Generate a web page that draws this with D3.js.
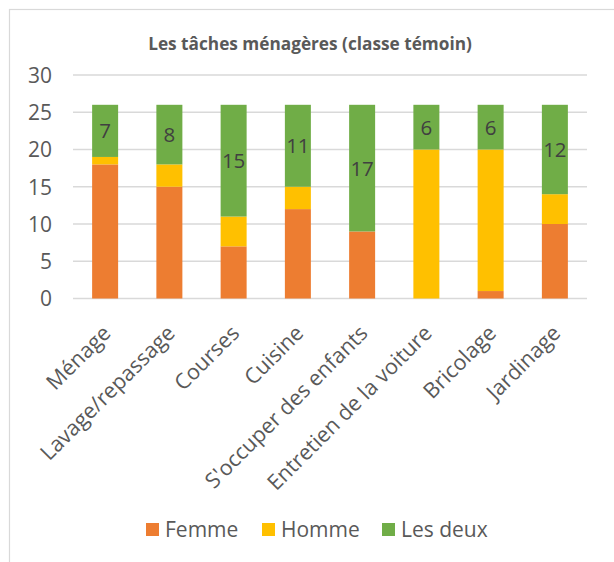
<!DOCTYPE html>
<html>
<head>
<meta charset="utf-8">
<script src="https://cdn.jsdelivr.net/npm/d3@7/dist/d3.min.js"></script>
<style>
  html, body { margin: 0; padding: 0; background: #fff; }
  svg { display: block; }
</style>
</head>
<body>
<svg id="chart" width="614" height="562"></svg>
<script>
const categories = ["Ménage", "Lavage/repassage", "Courses", "Cuisine", "S'occuper des enfants", "Entretien de la voiture", "Bricolage", "Jardinage"];
const femme   = [18, 15, 7, 12, 9, 0, 1, 10];
const homme   = [1, 3, 4, 3, 0, 20, 19, 4];
const lesDeux = [7, 8, 15, 11, 17, 6, 6, 12];
const seriesNames = ["Femme", "Homme", "Les deux"];
const yTicks = [0, 5, 10, 15, 20, 25, 30];
const colors = ["#ED7D31", "#FFC000", "#70AD47"];
const FONT = "'Open Sans', Lato, sans-serif";

const svg = d3.select("#chart");

// chart frame
svg.append("rect").attr("x", 9.5).attr("y", 9.5).attr("width", 800).attr("height", 800)
  .attr("fill", "none").attr("stroke", "#d9d9d9").attr("stroke-width", 1.2);

const x = d3.scaleBand().domain(categories).range([73, 587]).paddingInner(0.6).paddingOuter(0.3);
const y = d3.scaleLinear().domain([0, 30]).range([298.5, 75]);

// title
const title = svg.append("text").attr("x", 310).attr("y", 50).attr("text-anchor", "middle")
  .attr("font-family", FONT).attr("font-weight", "bold").attr("font-size", 16)
  .attr("fill", "#595959").text("Les tâches ménagères (classe témoin)");
const tl = title.node().getComputedTextLength();
if (tl > 0) title.attr("font-size", 16 * 324 / tl);

// gridlines
svg.append("g").selectAll("line").data(yTicks).join("line")
  .attr("x1", 73).attr("x2", 587)
  .attr("y1", d => y(d)).attr("y2", d => y(d))
  .attr("stroke", "#d9d9d9").attr("stroke-width", 1.3);

// y axis
const yAxis = d3.axisLeft(y).tickValues(yTicks).tickSize(0).tickPadding(0);
const gy = svg.append("g").attr("transform", "translate(52,0)").call(yAxis);
gy.select(".domain").remove();
gy.selectAll("text").attr("font-family", FONT).attr("font-size", 21).attr("fill", "#595959").attr("dy", "0.35em");

// stacked data
const table = categories.map((c, i) => ({ cat: c, Femme: femme[i], Homme: homme[i], "Les deux": lesDeux[i] }));
const stacked = d3.stack().keys(seriesNames)(table);

const bw = 26;
svg.append("g").selectAll("g").data(stacked).join("g")
  .attr("fill", (d, i) => colors[i])
  .selectAll("rect").data(d => d).join("rect")
  .attr("x", d => x(d.data.cat) + x.bandwidth() / 2 - bw / 2)
  .attr("width", bw)
  .attr("y", d => y(d[1]))
  .attr("height", d => y(d[0]) - y(d[1]));

// data labels (Les deux)
const topSeries = stacked[2];
svg.append("g").selectAll("text").data(topSeries).join("text")
  .attr("x", d => x(d.data.cat) + x.bandwidth() / 2)
  .attr("y", d => (y(d[0]) + y(d[1])) / 2)
  .attr("dy", "0.36em")
  .attr("text-anchor", "middle")
  .attr("font-family", FONT).attr("font-size", 20.5).attr("fill", "#404040")
  .text(d => d.data["Les deux"]);

// x axis labels
const xAxis = d3.axisBottom(x).tickSize(0).tickPadding(0);
const gx = svg.append("g").attr("transform", "translate(0,298.5)").call(xAxis);
gx.select(".domain").remove();
gx.selectAll("text")
  .attr("font-family", FONT).attr("font-size", 21.5).attr("fill", "#595959")
  .attr("text-anchor", "end")
  .attr("dy", null).attr("y", null)
  .attr("transform", "translate(7,36) rotate(-45)");

// legend
const legendItems = [
  { name: "Femme", sx: 146, tx: 165 },
  { name: "Homme", sx: 262, tx: 281 },
  { name: "Les deux", sx: 382, tx: 401 }
];
const lg = svg.append("g");
legendItems.forEach((it, i) => {
  lg.append("rect").attr("x", it.sx).attr("y", 523).attr("width", 13).attr("height", 13).attr("fill", colors[i]);
  lg.append("text").attr("x", it.tx).attr("y", 536.5).attr("font-family", FONT).attr("font-size", 21)
    .attr("fill", "#595959").text(it.name);
});
</script>
</body>
</html>
